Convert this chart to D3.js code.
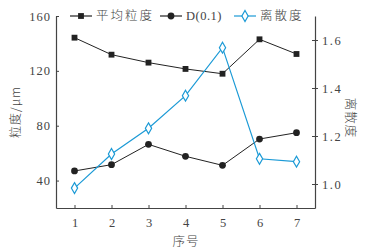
<!DOCTYPE html>
<html>
<head>
<meta charset="utf-8">
<script src="https://cdn.jsdelivr.net/npm/d3@7"></script>
<style>
  body { margin: 0; background: #fff; }
  svg { display: block; }
  text { fill: #444; }
  .num { font-family: 'Liberation Serif', 'DejaVu Serif', serif; }
  .cjk { font-family: 'Noto Sans CJK SC', sans-serif; font-weight: 300; }
</style>
</head>
<body>
<div id="chart"></div>
<script>
// chart data
let categories = [1, 2, 3, 4, 5, 6, 7];
let meanSize = [144.2, 131.8, 126, 121.4, 117.9, 143, 132.3];
let d01 = [47, 51.6, 66.4, 57.7, 51.1, 70.3, 74.9];
let dispersion = [0.983, 1.125, 1.232, 1.368, 1.568, 1.105, 1.093];
let leftTicks = [40, 80, 120, 160];
let rightTicks = [1.0, 1.2, 1.4, 1.6];

let width = 368, height = 251;
let plotL = 56, plotR = 315, plotT = 16, plotB = 208;
let blue = '#1b9ad6', dark = '#222';

let svg = d3.select('#chart').append('svg')
  .attr('width', width)
  .attr('height', height);

let x = d3.scaleLinear().domain([0.5, 7.5]).range([plotL, plotR]);
let yL = d3.scaleLinear().domain([20, 160]).range([plotB, plotT]);
let yR = d3.scaleLinear().domain([0.9, 1.7]).range([plotB, plotT]);

// axes
let xAxis = svg.append('g')
  .attr('transform', 'translate(0,' + plotB + ')')
  .call(d3.axisBottom(x).tickValues(categories).tickFormat(d3.format('d')).tickSizeInner(-3).tickSizeOuter(0).tickPadding(10));
let lAxis = svg.append('g')
  .attr('transform', 'translate(' + plotL + ',0)')
  .call(d3.axisLeft(yL).tickValues(leftTicks).tickSizeInner(-3).tickSizeOuter(0).tickPadding(5));
let rAxis = svg.append('g')
  .attr('transform', 'translate(' + plotR + ',0)')
  .call(d3.axisRight(yR).tickValues(rightTicks).tickFormat(d3.format('.1f')).tickSizeInner(3).tickSizeOuter(0).tickPadding(4));

rAxis.selectAll('.tick line').attr('x1', -3);

[xAxis, lAxis, rAxis].forEach(function(a) {
  a.attr('font-family', null).attr('font-size', null);
  a.select('.domain').attr('stroke', '#444').attr('stroke-width', 1.2);
  a.selectAll('.tick line').attr('stroke', '#444');
  a.selectAll('.tick text')
    .attr('class', 'num')
    .style('font-size', '12.5px')
    .attr('fill', '#444');
});
rAxis.selectAll('.tick text').attr('fill', blue).style('letter-spacing', '1.5px');
lAxis.selectAll('.tick text').style('letter-spacing', '1px');

// axis titles
svg.append('text').attr('class', 'cjk')
  .attr('transform', 'translate(20,112) rotate(-90)')
  .attr('text-anchor', 'middle')
  .style('font-size', '12px')
  .style('letter-spacing', '1px')
  .text('粒度/μm');
svg.append('text').attr('class', 'cjk')
  .attr('transform', 'translate(346,118) rotate(90)')
  .attr('text-anchor', 'middle')
  .style('font-size', '12.5px')
  .style('letter-spacing', '1px')
  .text('离散度');
svg.append('text').attr('class', 'cjk')
  .attr('x', 186).attr('y', 246)
  .attr('text-anchor', 'middle')
  .style('font-size', '12.5px')
  .style('letter-spacing', '1px')
  .text('序号');

// lines
let lineL = d3.line().x(function(d, i) { return x(categories[i]); }).y(function(d) { return yL(d); });
let lineR = d3.line().x(function(d, i) { return x(categories[i]); }).y(function(d) { return yR(d); });

svg.append('path').datum(meanSize).attr('d', lineL)
  .attr('fill', 'none').attr('stroke', dark).attr('stroke-width', 1);
svg.append('path').datum(d01).attr('d', lineL)
  .attr('fill', 'none').attr('stroke', dark).attr('stroke-width', 1);
svg.append('path').datum(dispersion).attr('d', lineR)
  .attr('fill', 'none').attr('stroke', blue).attr('stroke-width', 1.2);

let sq = d3.symbol().type(d3.symbolSquare).size(34);
let ci = d3.symbol().type(d3.symbolCircle).size(36);
let di = d3.symbol().type(d3.symbolDiamond).size(34);

svg.selectAll('.sq').data(meanSize).enter().append('path')
  .attr('d', sq)
  .attr('transform', function(d, i) { return 'translate(' + x(categories[i]) + ',' + yL(d) + ')'; })
  .attr('fill', dark);
svg.selectAll('.ci').data(d01).enter().append('path')
  .attr('d', ci)
  .attr('transform', function(d, i) { return 'translate(' + x(categories[i]) + ',' + yL(d) + ')'; })
  .attr('fill', dark);
svg.selectAll('.di').data(dispersion).enter().append('path')
  .attr('d', di)
  .attr('transform', function(d, i) { return 'translate(' + x(categories[i]) + ',' + yR(d) + ')'; })
  .attr('fill', '#fff').attr('stroke', blue).attr('stroke-width', 1.2);

// legend
let legend = [
  {label: '平均粒度', sym: sq, color: dark, fill: dark, x0: 70, tx: 96, cjk: true},
  {label: 'D(0.1)', sym: ci, color: dark, fill: dark, x0: 160, tx: 186, cjk: false},
  {label: '离散度', sym: di, color: blue, fill: '#fff', x0: 234, tx: 260, cjk: true}
];
let lg = svg.selectAll('.lg').data(legend).enter().append('g');
lg.append('line')
  .attr('x1', function(d) { return d.x0; }).attr('x2', function(d) { return d.x0 + 22; })
  .attr('y1', 16).attr('y2', 16)
  .attr('stroke', function(d) { return d.color; }).attr('stroke-width', 1.2);
lg.append('path')
  .attr('d', function(d) { return d.sym(); })
  .attr('transform', function(d) { return 'translate(' + (d.x0 + 11) + ',16)'; })
  .attr('fill', function(d) { return d.fill; })
  .attr('stroke', function(d) { return d.fill === '#fff' ? d.color : 'none'; })
  .attr('stroke-width', 1.2);
lg.append('text')
  .attr('class', function(d) { return d.cjk ? 'cjk' : 'num'; })
  .attr('x', function(d) { return d.tx; }).attr('y', 20)
  .style('font-size', '12.5px')
  .style('letter-spacing', function(d) { return d.cjk ? '2px' : '0.5px'; })
  .text(function(d) { return d.label; });
</script>
</body>
</html>
